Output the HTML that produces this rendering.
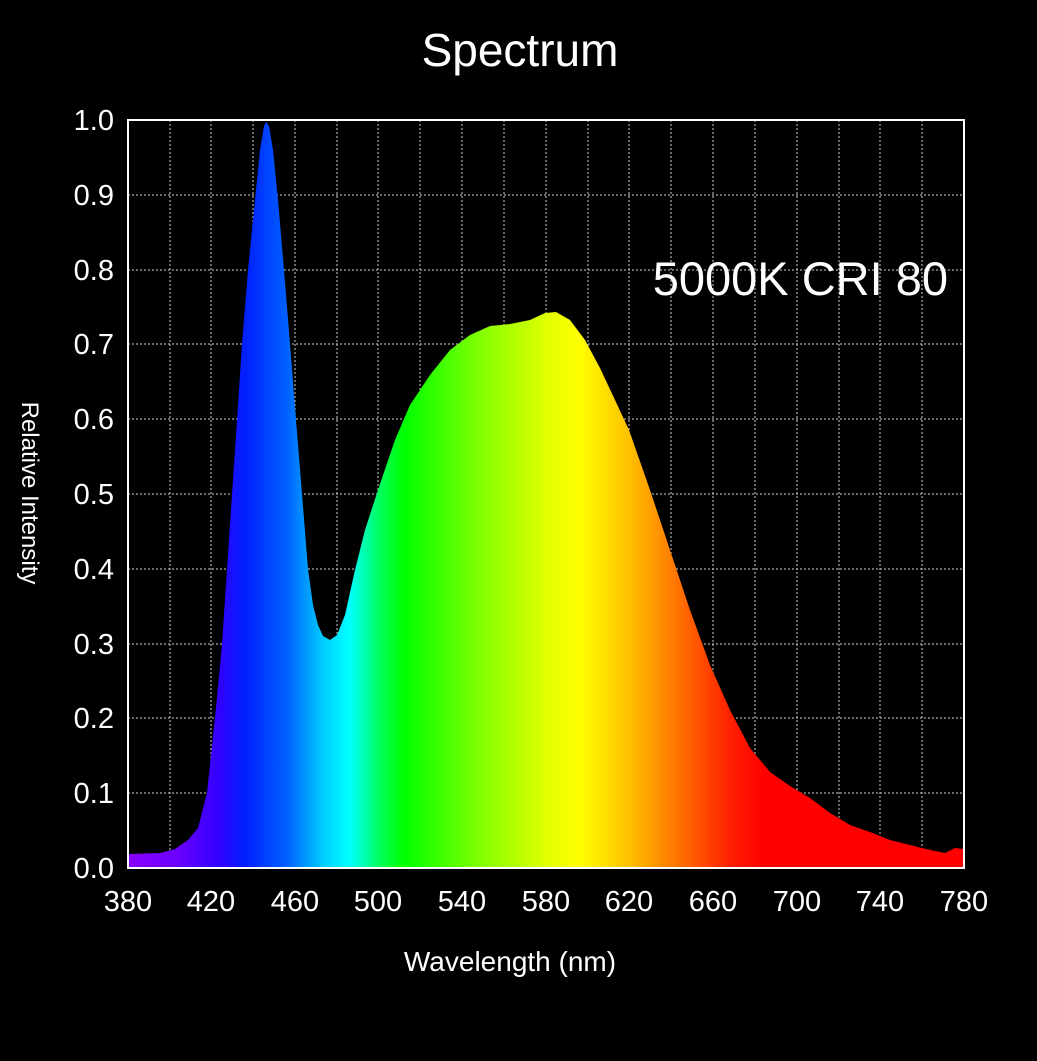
<!DOCTYPE html>
<html><head><meta charset="utf-8"><style>
html,body{margin:0;padding:0;background:#000;}
svg{display:block}
text{font-family:"Liberation Sans",sans-serif;fill:#fff}
</style></head><body>
<svg width="1037" height="1061" viewBox="0 0 1037 1061" xmlns="http://www.w3.org/2000/svg">
<defs>
<linearGradient id="sp" x1="128" y1="0" x2="964" y2="0" gradientUnits="userSpaceOnUse">
<stop offset="0" stop-color="#8a00ff"/>
<stop offset="0.06" stop-color="#6a00ff"/>
<stop offset="0.11" stop-color="#3000ff"/>
<stop offset="0.14" stop-color="#0020ff"/>
<stop offset="0.19" stop-color="#0060ff"/>
<stop offset="0.235" stop-color="#00d0ff"/>
<stop offset="0.265" stop-color="#00ffff"/>
<stop offset="0.30" stop-color="#00ff60"/>
<stop offset="0.33" stop-color="#00ff00"/>
<stop offset="0.42" stop-color="#80ff00"/>
<stop offset="0.50" stop-color="#e0ff00"/>
<stop offset="0.54" stop-color="#ffff00"/>
<stop offset="0.60" stop-color="#ffc000"/>
<stop offset="0.66" stop-color="#ff7000"/>
<stop offset="0.72" stop-color="#ff2000"/>
<stop offset="0.76" stop-color="#ff0000"/>
<stop offset="1" stop-color="#ff0000"/>
</linearGradient>
</defs>
<text x="520" y="66" font-size="46" text-anchor="middle">Spectrum</text>
<g stroke="#aaa" stroke-width="1.2" stroke-dasharray="2,2">
<line x1="128" y1="195" x2="964" y2="195"/><line x1="128" y1="270" x2="964" y2="270"/>
<line x1="128" y1="344" x2="964" y2="344"/><line x1="128" y1="419" x2="964" y2="419"/>
<line x1="128" y1="494" x2="964" y2="494"/><line x1="128" y1="569" x2="964" y2="569"/>
<line x1="128" y1="644" x2="964" y2="644"/><line x1="128" y1="718" x2="964" y2="718"/>
<line x1="128" y1="793" x2="964" y2="793"/>
<line x1="170" y1="120" x2="170" y2="868"/><line x1="211" y1="120" x2="211" y2="868"/>
<line x1="253" y1="120" x2="253" y2="868"/><line x1="295" y1="120" x2="295" y2="868"/>
<line x1="337" y1="120" x2="337" y2="868"/><line x1="378" y1="120" x2="378" y2="868"/>
<line x1="420" y1="120" x2="420" y2="868"/><line x1="462" y1="120" x2="462" y2="868"/>
<line x1="504" y1="120" x2="504" y2="868"/><line x1="546" y1="120" x2="546" y2="868"/>
<line x1="588" y1="120" x2="588" y2="868"/><line x1="629" y1="120" x2="629" y2="868"/>
<line x1="671" y1="120" x2="671" y2="868"/><line x1="713" y1="120" x2="713" y2="868"/>
<line x1="755" y1="120" x2="755" y2="868"/><line x1="797" y1="120" x2="797" y2="868"/>
<line x1="839" y1="120" x2="839" y2="868"/><line x1="880" y1="120" x2="880" y2="868"/>
<line x1="922" y1="120" x2="922" y2="868"/>
</g>
<path fill="url(#sp)" d="M128,868 L128,854 L160,853 L175,849 L188,840 L198,828 L207,793 L215,718 L222,644 L227,569 L232,494 L237,420 L242,344 L248,270 L255,200 L260,150 L264,126 L266,122 L269,126 L273,150 L278,200 L284,270 L290,344 L296,420 L302,494 L308,569 L313,605 L318,625 L323,636 L330,640 L337,635 L345,615 L355,570 L365,530 L378,490 L395,440 L410,405 L430,375 L450,350 L470,335 L490,326 L510,324 L530,320 L545,313 L556,312 L570,320 L585,340 L600,368 L615,400 L629,430 L650,490 L670,550 L690,610 L710,665 L730,710 L750,748 L770,772 L790,786 L810,798 L830,813 L850,825 L870,832 L890,840 L910,845 L930,850 L945,853 L955,848 L964,849 L964,868 Z"/>
<rect x="128" y="120" width="836" height="748" fill="none" stroke="#fff" stroke-width="2"/>
<g font-size="29" text-anchor="end">
<text x="114" y="130">1.0</text><text x="114" y="205">0.9</text><text x="114" y="280">0.8</text>
<text x="114" y="354">0.7</text><text x="114" y="429">0.6</text><text x="114" y="504">0.5</text>
<text x="114" y="579">0.4</text><text x="114" y="654">0.3</text><text x="114" y="728">0.2</text>
<text x="114" y="803">0.1</text><text x="114" y="878">0.0</text>
</g>
<g font-size="29" text-anchor="middle">
<text x="128" y="911">380</text><text x="211" y="911">420</text><text x="295" y="911">460</text>
<text x="378" y="911">500</text><text x="462" y="911">540</text><text x="546" y="911">580</text>
<text x="629" y="911">620</text><text x="713" y="911">660</text><text x="797" y="911">700</text>
<text x="880" y="911">740</text><text x="964" y="911">780</text>
</g>
<text x="510" y="971" font-size="28" text-anchor="middle">Wavelength (nm)</text>
<text transform="translate(22,493) rotate(90)" font-size="24" text-anchor="middle">Relative Intensity</text>
<text x="948" y="295" font-size="47" text-anchor="end">5000K CRI 80</text>
</svg>
</body></html>
